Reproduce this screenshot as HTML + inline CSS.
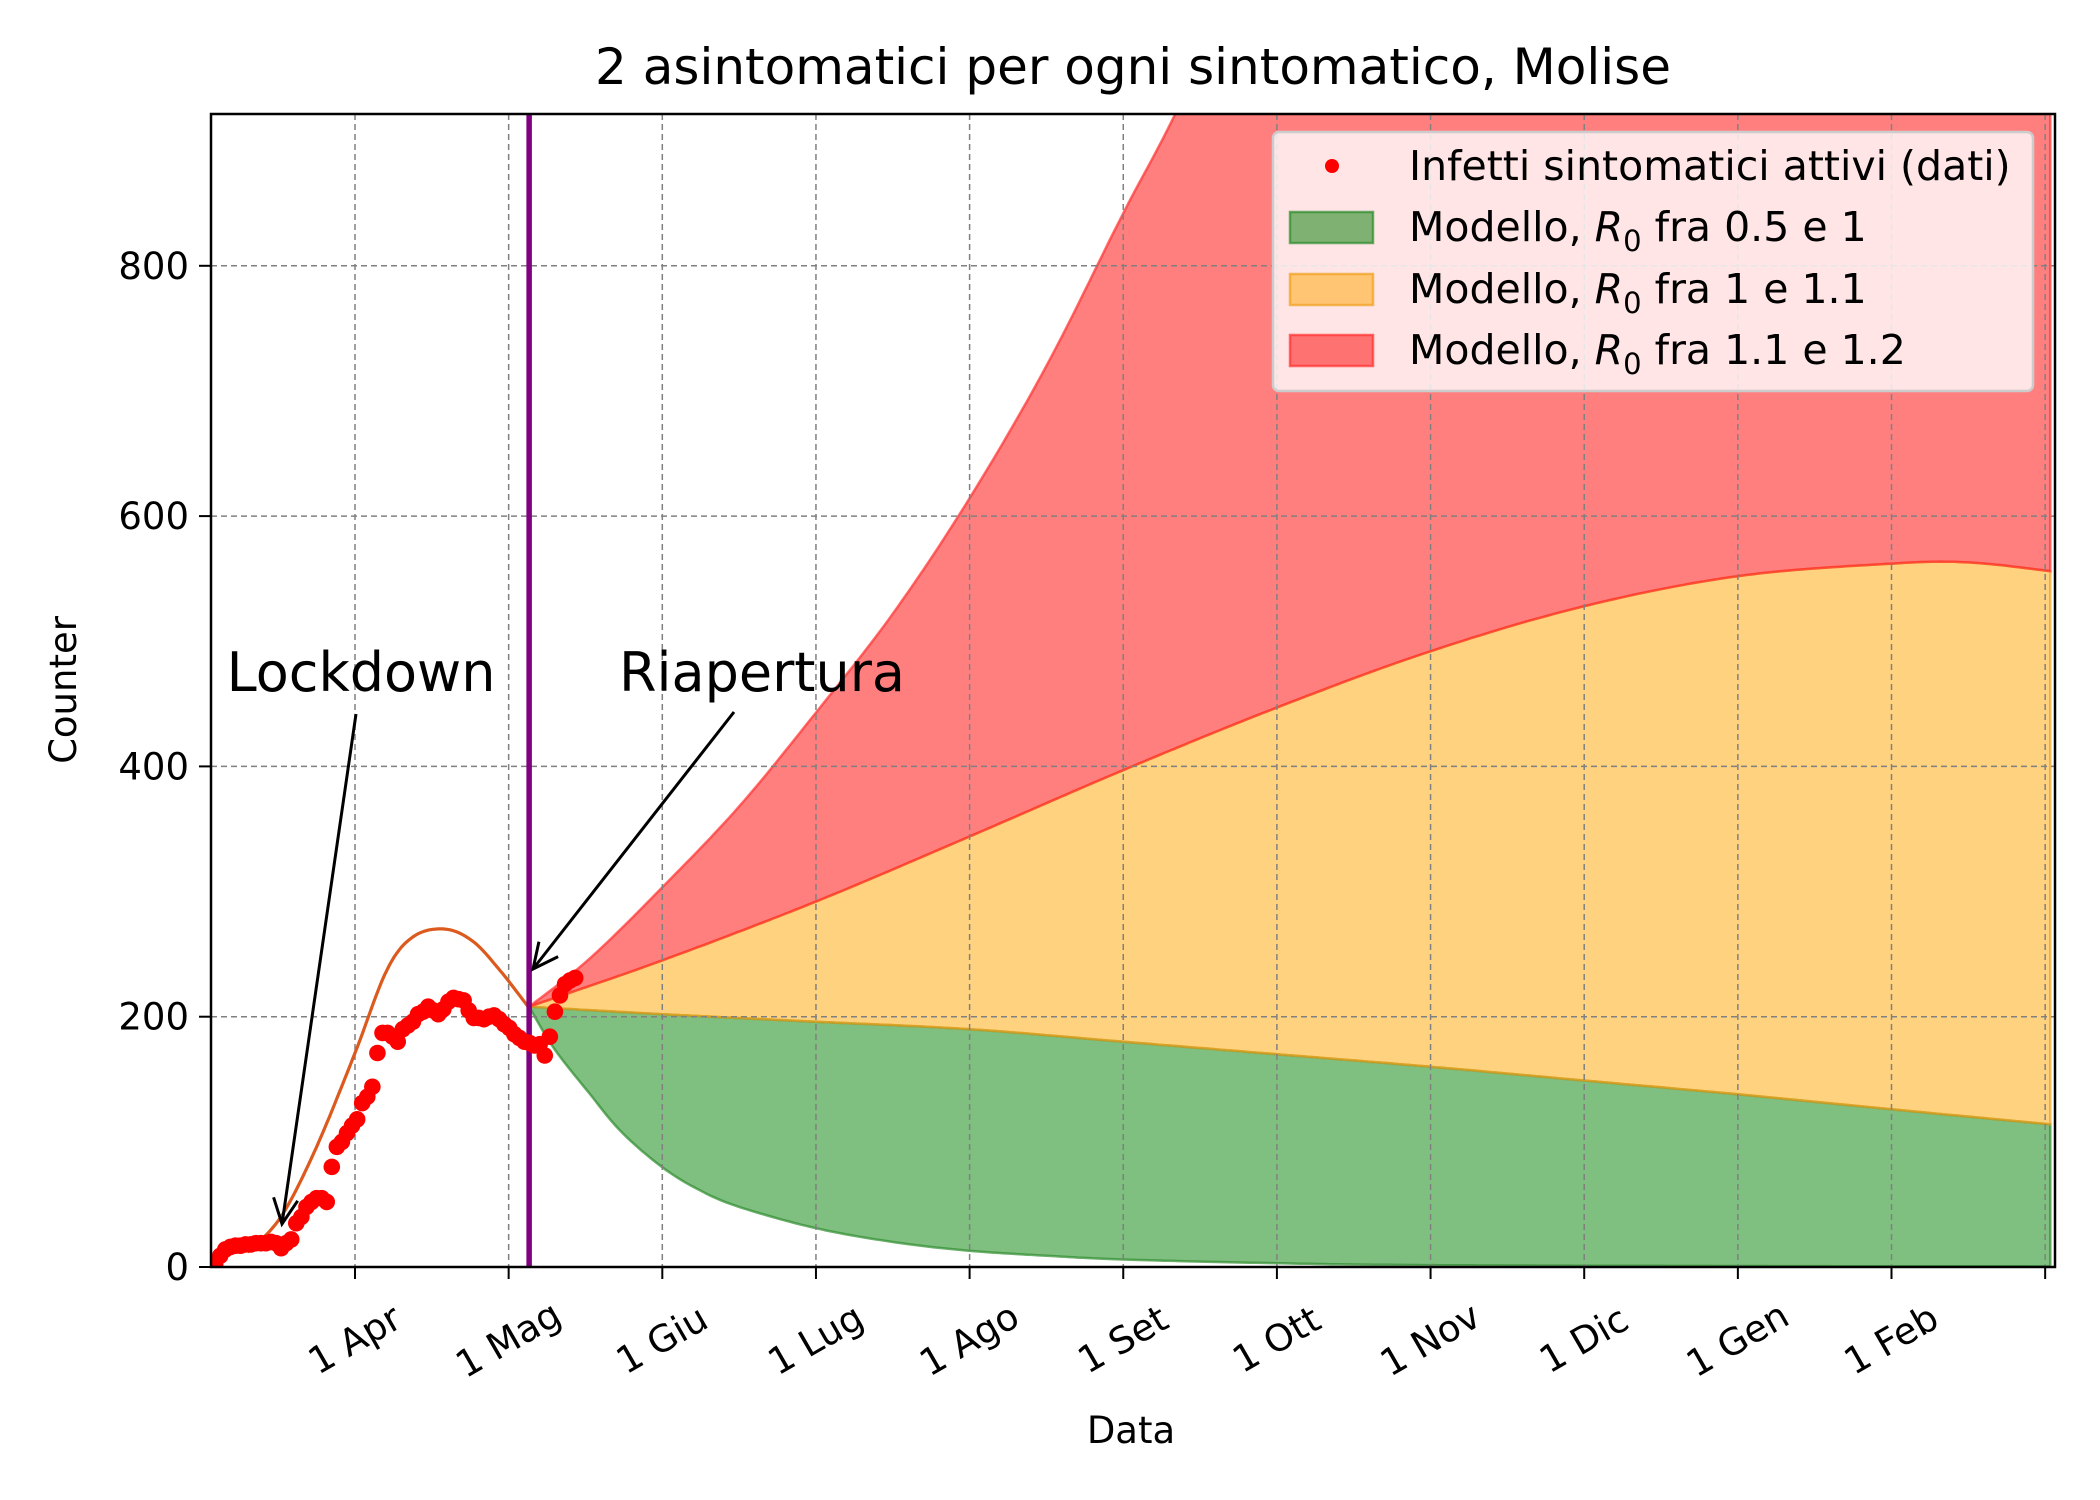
<!DOCTYPE html>
<html><head><meta charset="utf-8"><style>
html,body{margin:0;padding:0;background:#fff;}
svg{display:block;font-family:"DejaVu Sans","Liberation Sans",sans-serif;}
</style></head><body>
<svg id="chart" width="2100" height="1500" viewBox="0 0 2100 1500" xmlns="http://www.w3.org/2000/svg">
<defs><clipPath id="plotclip"><rect x="211" y="114" width="1844" height="1153"/></clipPath></defs>
<rect x="0" y="0" width="2100" height="1500" fill="#fff"/>
<text x="1133" y="84" font-size="50" text-anchor="middle" fill="#000">2 asintomatici per ogni sintomatico, Molise</text>
<g id="fills" clip-path="url(#plotclip)"></g>
<g id="grid"></g>
<g id="lines" clip-path="url(#plotclip)"></g>
<g id="axes"></g>
<g id="annot"></g>
<g id="legend"></g>
</svg>
<script>
// ---- data ----
const tickLabels = ["1 Apr","1 Mag","1 Giu","1 Lug","1 Ago","1 Set","1 Ott","1 Nov","1 Dic","1 Gen","1 Feb",""];
const yTicks = [0,200,400,600,800];
const dataStart = -27.3;
const dataValues = [2,9,14,16,17,17,18,18,19,19,19,20,19,15,19,22,35,40,48,52,55,55,52,80,96,100,107,113,118,131,136,144,171,187,187,184,180,190,193,196,202,204,208,205,202,206,212,215,214,213,205,199,199,198,200,201,198,194,191,186,183,180,179,177,178,169,184,204,217,226,229,231];
const fitDays = [-21,-19.2,-14,-7.5,0,6.2,11.4,17.6,23.1,28.3,33.8];
const fitValues = [12,18,43,96,171,237,264,270,260,237,208];
const reopenDay = 34;
const greenLowDays = [34,38.8,45.7,52,59.9,67,75,90,105,119.8,135,150,180,210,270,331];
const greenLowVals = [208,175,139,108,80,62,48,31,20,13,9,6,3,1.5,0.8,0.5];
const orangeLowDays = [34,60,90,120,150,180,210,240,270,300,331];
const orangeLowVals = [208,202,196,190,180,170,160,149,138,126,114];
const redLowDays = [34,60,90,120,150,180,210,240,270,300,315,331];
const redLowVals = [208,245,292,344,397,447,492,528,552,562,563,556];
const redHighDays = [34,45.7,59.9,75,90,105,119.8,135,150,160,175,190,210,240,270,300,331];
const redHighVals = [208,246,303,368,443,522,613,720,842,920,1050,1190,1390,1700,2000,2300,2600];

// ---- scales ----
const X0=355, PXD=5.1217, Y0=1267, PXV=1.2515;
const L=211, R=2055, T=114, B=1267;
function xs(d){return X0+d*PXD;}
function ys(v){return Y0-v*PXV;}
const NS="http://www.w3.org/2000/svg";
function mk(tag,attrs,parent){const e=document.createElementNS(NS,tag);for(const k in attrs)e.setAttribute(k,attrs[k]);parent.appendChild(e);return e;}
function interp(days,vals,step){
  const out=[];const n=days.length;
  for(let i=0;i<n-1;i++){
    const p0=i>0?[days[i-1],vals[i-1]]:[days[i],vals[i]];
    const p1=[days[i],vals[i]],p2=[days[i+1],vals[i+1]];
    const p3=i<n-2?[days[i+2],vals[i+2]]:p2;
    const segs=Math.max(2,Math.ceil((p2[0]-p1[0])/step));
    for(let s=0;s<segs;s++){
      const t=s/segs,t2=t*t,t3=t2*t;
      const f=(a,b,c,d)=>0.5*((2*b)+(-a+c)*t+(2*a-5*b+4*c-d)*t2+(-a+3*b-3*c+d)*t3);
      out.push([f(p0[0],p1[0],p2[0],p3[0]),f(p0[1],p1[1],p2[1],p3[1])]);
    }
  }
  out.push([days[n-1],vals[n-1]]);
  return out;
}
function pathOf(pts){return pts.map((p,i)=>(i?'L':'M')+xs(p[0]).toFixed(1)+' '+ys(p[1]).toFixed(1)).join(' ');}

const fills=document.getElementById('fills');
const grid=document.getElementById('grid');
const lines=document.getElementById('lines');
const axes=document.getElementById('axes');
const annot=document.getElementById('annot');
const legend=document.getElementById('legend');

function band(lowD,lowV,hiD,hiV,fill,stroke,name){
  const lo=interp(lowD,lowV,1), hi=interp(hiD,hiV,1);
  const d=pathOf(lo)+' '+hi.slice().reverse().map(p=>'L'+xs(p[0]).toFixed(1)+' '+ys(p[1]).toFixed(1)).join(' ')+' Z';
  const p=mk('path',{d:d,fill:fill,'fill-opacity':0.5,stroke:stroke,'stroke-width':2.5,'stroke-opacity':0.7},fills);
  
  
}
band(greenLowDays,greenLowVals,orangeLowDays,orangeLowVals,'#008000','#2e8b2e','band-r0-05-1');
band(orangeLowDays,orangeLowVals,redLowDays,redLowVals,'#ffa500','#f0a020','band-r0-1-11');
band(redLowDays,redLowVals,redHighDays,redHighVals,'#ff0000','#ff3030','band-r0-11-12');

// grid
for(let i=0;i<tickLabels.length;i++){
  const x=xs(i*30);
  const g=mk('line',{x1:x,x2:x,y1:T,y2:B,stroke:'#808080','stroke-width':1.5,'stroke-dasharray':'6,4'},grid);
  
  
}
yTicks.forEach(v=>{
  if(v===0)return;
  const y=ys(v);
  const g=mk('line',{x1:L,x2:R,y1:y,y2:y,stroke:'#808080','stroke-width':1.5,'stroke-dasharray':'6,4'},grid);
  
  
});

// fit line
const fitPath=mk('path',{d:pathOf(interp(fitDays,fitValues,0.5)),fill:'none',stroke:'#dc5a1e','stroke-width':3.2},lines);



// reopen line
const rl=mk('line',{x1:xs(reopenDay),x2:xs(reopenDay),y1:T,y2:B,stroke:'#800080','stroke-width':5.5},lines);



// data points
dataValues.forEach((v,i)=>{
  const c=mk('circle',{cx:xs(dataStart+i*0.99),cy:ys(v),r:8.3,fill:'#ff0000'},lines);
  
  
});

// axes frame
const frame=mk('rect',{x:L,y:T,width:R-L,height:B-T,fill:'none',stroke:'#000','stroke-width':2.5},axes);


tickLabels.forEach((lab,i)=>{
  const x=xs(i*30);
  const t=mk('line',{x1:x,x2:x,y1:B,y2:B+12,stroke:'#000','stroke-width':2},axes);
  
  
  if(lab){
    const tx=mk('text',{x:x,y:1352,'font-size':37,'text-anchor':'middle',transform:'rotate(-30 '+x+' 1340)'},axes);
    tx.textContent=lab;
    
    
  }
});
yTicks.forEach(v=>{
  const y=ys(v);
  const t=mk('line',{x1:L-12,x2:L,y1:y,y2:y,stroke:'#000','stroke-width':2},axes);
  
  
  const tx=mk('text',{x:L-22,y:y+13,'font-size':37,'text-anchor':'end'},axes);
  tx.textContent=String(v);
  
  
});
const xl=mk('text',{x:1131,y:1443,'font-size':37,'text-anchor':'middle'},axes);
xl.textContent='Data';


const yl=mk('text',{x:0,y:0,'font-size':37,'text-anchor':'middle',transform:'translate(76 690) rotate(-90)'},axes);
yl.textContent='Counter';



// annotations
function arrow(x1,y1,x2,y2,name){
  const g=mk('g',{},annot);
  
  
  mk('line',{x1:x1,y1:y1,x2:x2,y2:y2,stroke:'#000','stroke-width':3},g);
  const a=Math.atan2(y2-y1,x2-x1),h=28,w=0.45;
  const p1=[x2-h*Math.cos(a-w),y2-h*Math.sin(a-w)],p2=[x2-h*Math.cos(a+w),y2-h*Math.sin(a+w)];
  mk('path',{d:`M${p1[0]} ${p1[1]} L${x2} ${y2} L${p2[0]} ${p2[1]}`,fill:'none',stroke:'#000','stroke-width':3},g);
}
arrow(356,714,282,1224,'lockdown-arrow');
arrow(734,712,533,969,'reopening-arrow');
const lt=mk('text',{x:361,y:691,'font-size':54,'text-anchor':'middle'},annot);
lt.textContent='Lockdown';


const rt=mk('text',{x:762,y:691,'font-size':54,'text-anchor':'middle'},annot);
rt.textContent='Riapertura';



// legend
const lb=mk('rect',{x:1273,y:132,width:760,height:259,rx:6,fill:'#fff','fill-opacity':0.8,stroke:'#cccccc','stroke-width':2.5},legend);


const e0=mk('g',{},legend);


mk('circle',{cx:1332,cy:166,r:7,fill:'#ff0000'},e0);
mk('text',{x:1409,y:180,'font-size':41},e0).textContent='Infetti sintomatici attivi (dati)';
const entries=[['#008000','#2e8b2e','0.5 e 1','legend-entry-green',227],['#ffa500','#f0a020','1 e 1.1','legend-entry-orange',289],['#ff0000','#ff3030','1.1 e 1.2','legend-entry-red',350]];
entries.forEach(en=>{
  const g=mk('g',{},legend);
  
  
  mk('rect',{x:1290,y:en[4]-15,width:83,height:31,fill:en[0],'fill-opacity':0.5,stroke:en[1],'stroke-width':2.5,'stroke-opacity':0.7},g);
  const t=mk('text',{x:1409,y:en[4]+14,'font-size':41},g);
  t.innerHTML='Modello, <tspan font-style="italic">R</tspan><tspan font-size="29" dy="10">0</tspan><tspan dy="-10"> fra '+en[2]+'</tspan>';
});
</script>
</body></html>
